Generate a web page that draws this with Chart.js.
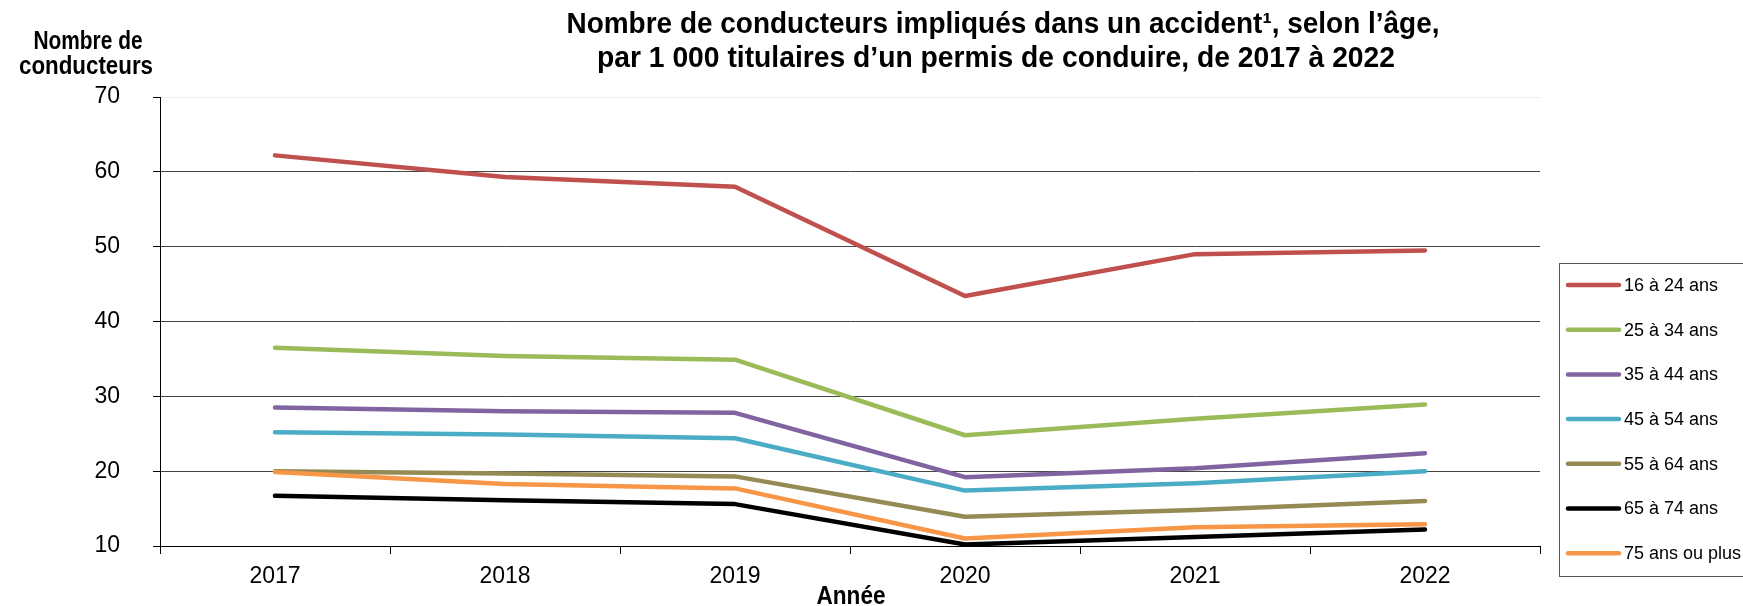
<!DOCTYPE html>
<html lang="fr">
<head>
<meta charset="utf-8">
<title>Conducteurs impliqués dans un accident</title>
<script src="https://cdn.jsdelivr.net/npm/chart.js@4.4.1/dist/chart.umd.min.js"></script>
<style>
    html, body { margin: 0; padding: 0; background: #ffffff; }
    #wrap { width: 1743px; height: 606px; position: relative; }
</style>
</head>
<body>
<div id="wrap"><canvas id="accidentChart"></canvas></div>
<script>
// Values
const years = ['2017', '2018', '2019', '2020', '2021', '2022'];
const yTicks = [10, 20, 30, 40, 50, 60, 70];

const ages16to24 = [62.2, 59.3, 58.0, 43.4, 49.0, 49.5];
const ages25to34 = [36.5, 35.4, 34.9, 24.8, 27.0, 28.9];
const ages35to44 = [28.5, 28.0, 27.8, 19.2, 20.4, 22.4];
const ages45to54 = [25.2, 24.9, 24.4, 17.4, 18.4, 20.0];
const ages55to64 = [20.0, 19.7, 19.3, 13.9, 14.8, 16.0];
const ages65to74 = [16.7, 16.1, 15.6, 10.2, 11.2, 12.2];
const ages75plus = [19.9, 18.3, 17.7, 11.0, 12.5, 12.9];

const seriesLabels = ['16 à 24 ans', '25 à 34 ans', '35 à 44 ans', '45 à 54 ans', '55 à 64 ans', '65 à 74 ans', '75 ans ou plus'];
const seriesValues = [ages16to24, ages25to34, ages35to44, ages45to54, ages55to64, ages65to74, ages75plus];
const seriesColors = ['#C0504D', '#9BBB59', '#8064A2', '#4BACC6', '#948A54', '#000000', '#F79646'];

const titleLines = ['Nombre de conducteurs impliqués dans un accident¹, selon l’âge,',
                    'par 1 000 titulaires d’un permis de conduire, de 2017 à 2022'];
const yTitleLines = ['Nombre de', 'conducteurs'];
const xTitle = 'Année';

const FONT = "'Liberation Sans', Arial, sans-serif";

// draw bold text squeezed to the width it has in the reference
function fitText(ctx, text, cx, cy, width) {
    const w = ctx.measureText(text).width;
    ctx.save();
    ctx.translate(cx, cy);
    ctx.scale(width / w, 1);
    ctx.fillText(text, 0, 0);
    ctx.restore();
}

const overlayPlugin = {
    id: 'overlay',
    afterDraw(chart) {
        const ctx = chart.ctx;
        ctx.save();
        ctx.fillStyle = '#000000';
        ctx.textAlign = 'center';
        ctx.textBaseline = 'middle';

        // main title
        ctx.font = 'bold 29px ' + FONT;
        fitText(ctx, titleLines[0], 1003, 25, 873);
        fitText(ctx, titleLines[1], 996, 59, 798);

        // y axis title, top left
        ctx.font = 'bold 25px ' + FONT;
        fitText(ctx, yTitleLines[0], 88, 42, 109);
        fitText(ctx, yTitleLines[1], 86, 67, 134);

        // x axis title
        ctx.font = 'bold 25px ' + FONT;
        fitText(ctx, xTitle, 851, 597, 69);

        // legend box
        ctx.strokeStyle = '#555555';
        ctx.lineWidth = 1;
        ctx.strokeRect(1559.5, 263.5, 200, 313);

        ctx.font = '18px ' + FONT;
        ctx.textAlign = 'left';
        chart.data.datasets.forEach((ds, i) => {
            const y = 285 + i * 44.7;
            ctx.beginPath();
            ctx.strokeStyle = ds.borderColor;
            ctx.lineWidth = 4.5;
            ctx.lineCap = 'round';
            ctx.moveTo(1568, y);
            ctx.lineTo(1619, y);
            ctx.stroke();
            ctx.fillText(ds.label, 1624, y + 1);
        });
        ctx.restore();
    }
};

function buildDatasets() {
    return seriesLabels.map((label, i) => ({
        label: label,
        data: seriesValues[i],
        borderColor: seriesColors[i],
        backgroundColor: seriesColors[i],
        borderWidth: 4.5,
        borderCapStyle: 'round',
        borderJoinStyle: 'round',
        pointRadius: 0,
        tension: 0,
        fill: false,
        order: seriesLabels.length - i   // last series drawn on top, like the original
    }));
}

window.onload = function () {
    const ctx = document.getElementById('accidentChart').getContext('2d');

    new Chart(ctx, {
        type: 'line',
        data: {
            labels: years,
            datasets: buildDatasets()
        },
        options: {
            responsive: true,
            maintainAspectRatio: false,
            devicePixelRatio: 1,
            animation: false,
            layout: {
                padding: { top: 97, right: 203, bottom: 0, left: 0 }
            },
            plugins: {
                legend: { display: false },
                title: { display: false },
                tooltip: { enabled: false }
            },
            scales: {
                x: {
                    offset: true,
                    grid: {
                        offset: true,
                        drawOnChartArea: false,
                        drawTicks: true,
                        tickLength: 8,
                        color: '#000000'
                    },
                    border: { color: '#000000', width: 1 },
                    ticks: {
                        color: '#000000',
                        padding: 9,
                        maxRotation: 0,
                        font: { family: FONT, size: 23 }
                    },
                    afterFit(axis) { axis.height = 60; }
                },
                y: {
                    min: yTicks[0],
                    max: yTicks[yTicks.length - 1],
                    afterBuildTicks(axis) {
                        axis.ticks = yTicks.map(v => ({ value: v }));
                    },
                    grid: {
                        color: c => (c.tick && c.tick.value === 70) ? '#eeeeee' : '#444444',
                        lineWidth: 1,
                        drawTicks: true,
                        tickLength: 7,
                        tickColor: '#000000'
                    },
                    border: { color: '#000000', width: 1 },
                    ticks: {
                        color: '#000000',
                        padding: 33,
                        font: { family: FONT, size: 23 }
                    },
                    afterFit(axis) { axis.width = 160; }
                }
            }
        },
        plugins: [overlayPlugin]
    });
};
</script>
</body>
</html>
